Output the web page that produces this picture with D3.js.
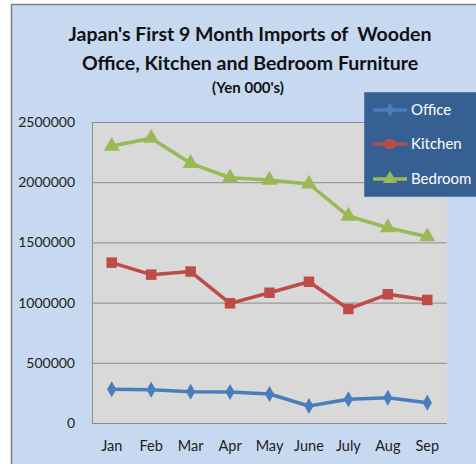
<!DOCTYPE html>
<html><head><meta charset="utf-8">
<script src="https://cdn.jsdelivr.net/npm/d3@7/dist/d3.min.js"></script>
<style>body{margin:0;background:#fff;}svg{display:block;}</style>
</head><body>
<svg id="c" width="476" height="464"></svg>
<script>
const months = ["Jan","Feb","Mar","Apr","May","June","July","Aug","Sep"];
const office = [280000,277000,260000,258000,241000,141000,197000,210000,169000];
const kitchen = [1332000,1232000,1258000,994000,1082000,1173000,947000,1069000,1022000];
const bedroom = [2300000,2365000,2157000,2037000,2018000,1985000,1719000,1622000,1547000];
const yTicks = [0,500000,1000000,1500000,2000000,2500000];
const titleLines = ["Japan's First 9 Month Imports of  Wooden","Office, Kitchen and Bedroom Furniture"];
const subtitle = "(Yen 000's)";
const seriesNames = ["Office","Kitchen","Bedroom"];

const svg = d3.select("#c");
const font = "Lato, 'Open Sans', sans-serif";

// chart frame
svg.append("rect").attr("x",11.5).attr("y",4.5).attr("width",480).attr("height",470)
  .attr("fill","#C6D9F1").attr("stroke","#7f7f7f").attr("stroke-width",1.5);

const L=92, T=122, R=447, B=423;
const x = d3.scaleBand().domain(months).range([L,R]);
const y = d3.scaleLinear().domain([0,2500000]).range([B,T]);

svg.append("rect").attr("x",L).attr("y",T).attr("width",R-L).attr("height",B-T).attr("fill","#D9D9D9");

// gridlines
svg.append("g").selectAll("line").data(yTicks.slice(1)).join("line")
  .attr("x1",L).attr("x2",R).attr("y1",d=>y(d)+0.5).attr("y2",d=>y(d)+0.5)
  .attr("stroke","#8c8c8c").attr("stroke-width",1);
svg.append("line").attr("x1",L+0.5).attr("x2",L+0.5).attr("y1",T).attr("y2",B).attr("stroke","#8c8c8c");
svg.append("line").attr("x1",L).attr("x2",R).attr("y1",B+0.5).attr("y2",B+0.5).attr("stroke","#8c8c8c");

// y axis labels
const yAxis = d3.axisLeft(y).tickValues(yTicks).tickSize(0).tickPadding(0).tickFormat(d3.format("d"));
const ga = svg.append("g").attr("transform",`translate(${L-17},0)`).call(yAxis);
ga.select(".domain").remove();
ga.selectAll("text").attr("font-family",font).attr("font-size",14).attr("fill","#222");

// x axis labels
const xAxis = d3.axisBottom(x).tickSize(0).tickPadding(0);
const gx = svg.append("g").attr("transform",`translate(0,${B+17})`).call(xAxis);
gx.select(".domain").remove();
gx.selectAll("text").attr("font-family",font).attr("font-size",14.5).attr("fill","#222").attr("dy","0.75em");

const cx = d => x(d)+x.bandwidth()/2;
const series = [
  {name:seriesNames[0], vals:office, color:"#4A7EBB", sym:d3.symbolDiamond, size:75},
  {name:seriesNames[1], vals:kitchen, color:"#BE4B48", sym:d3.symbolSquare, size:110},
  {name:seriesNames[2], vals:bedroom, color:"#98B954", sym:d3.symbolTriangle, size:110}
];
const line = d3.line().x((d,i)=>cx(months[i])).y(d=>y(d));
series.forEach(s=>{
  svg.append("path").datum(s.vals).attr("d",line).attr("fill","none")
    .attr("stroke",s.color).attr("stroke-width",3.5).attr("stroke-linejoin","round");
  svg.append("g").selectAll("path").data(s.vals).join("path")
    .attr("d",d3.symbol(s.sym,s.size)).attr("transform",(d,i)=>`translate(${cx(months[i])},${y(d)})`)
    .attr("fill",s.color);
});

// legend
svg.append("rect").attr("x",364.5).attr("y",92.5).attr("width",130).attr("height",104)
  .attr("fill","#376092").attr("stroke","#5a7fae").attr("stroke-width",1);
const ly = [110,144,179];
series.forEach((s,i)=>{
  svg.append("line").attr("x1",373).attr("x2",407).attr("y1",ly[i]).attr("y2",ly[i])
    .attr("stroke",s.color).attr("stroke-width",3.5);
  svg.append("path").attr("d",d3.symbol(s.sym,s.size*0.8)).attr("transform",`translate(390,${ly[i]})`).attr("fill",s.color);
  svg.append("text").attr("x",411).attr("y",ly[i]).attr("dy","0.35em").attr("font-family",font)
    .attr("font-size",15).attr("fill","#fff").text(s.name);
});

// title
svg.selectAll(".t").data(titleLines).join("text").attr("class","t")
  .attr("x",250).attr("y",(d,i)=>41+i*29).attr("text-anchor","middle").style("white-space","pre")
  .attr("font-family",font).attr("font-weight","bold").attr("font-size",19.5).attr("fill","#111").text(d=>d);
svg.append("text").attr("x",248).attr("y",93).attr("text-anchor","middle")
  .attr("font-family",font).attr("font-weight","bold").attr("font-size",15).attr("fill","#111").text(subtitle);
</script>
</body></html>
